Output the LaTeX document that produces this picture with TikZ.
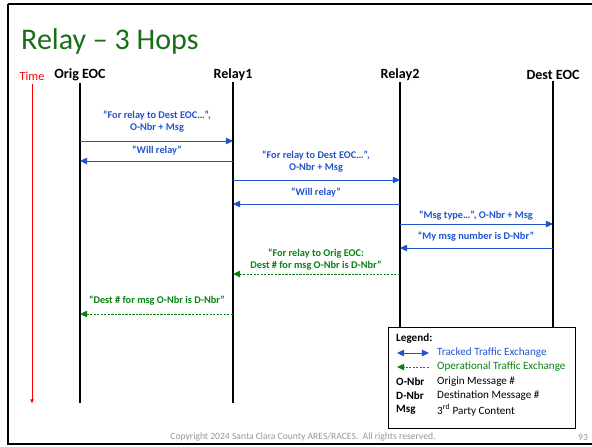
\documentclass[tikz,border=0pt]{standalone}
\usepackage{fontspec}
\setmainfont{Carlito}
\usepackage{tikz}
\usetikzlibrary{arrows.meta,positioning}
\definecolor{msgblue}{RGB}{32,84,204}
\definecolor{opgreen}{RGB}{10,130,20}
\definecolor{titlegreen}{RGB}{24,110,24}
\definecolor{copygray}{RGB}{150,150,150}
\tikzstyle{tracked}     = [msgblue, line width=0.8pt, -{Triangle[length=6pt,width=5.5pt]}]
\tikzstyle{operational} = [opgreen, line width=0.8pt, dash pattern=on 2pt off 1pt, -{Triangle[length=6pt,width=5.5pt]}]

\begin{document}
\begin{tikzpicture}[x=0.03cm,y=-0.03cm,
			header/.style={font=\bfseries\fontsize{12}{14}\selectfont, inner sep=1pt},
			lifeline/.style={line width=2.4pt},
			msg/.style={font=\bfseries\fontsize{8.8}{10.3}\selectfont, text=msgblue, align=center, inner sep=1pt},
			opmsg/.style={msg, text=opgreen},
			legtext/.style={font=\fontsize{9.5}{11}\selectfont, anchor=west, inner sep=0pt},
			legkey/.style={legtext, font=\bfseries\fontsize{9.5}{11}\selectfont},
		]
		\clip (0,0) rectangle (592,446);
		% slide frame
		\draw[line width=2.2pt] (8,4) -- (8,444) -- (610,444) (8,4) -- (610,4);
		\node[text=titlegreen, font=\fontsize{25.6}{30}\selectfont, anchor=west, inner sep=0pt] (title) at (21,42) {Relay – 3 Hops};

		% time axis
		\node[text=red, font=\fontsize{10.5}{12}\selectfont, inner sep=1pt] (time) at (32,76) {Time};
		\coordinate (timeend) at (32,403);
		\draw[red, line width=0.5pt, -{Triangle[length=3pt,width=3pt]}] (32,84) -- (timeend);

		% parties
		\node[header] (orig)   at (80,75)  {Orig EOC};
		\node[header] (relay1) at (233,75) {Relay1};
		\node[header] (relay2) at (400,75) {Relay2};
		\node[header] (dest)   at (553,75) {Dest EOC};

		% legend
		\node[draw, line width=1.2pt, fill=white, minimum width=5.61cm, minimum height=3.03cm, anchor=north west] (legend) at (388,327) {};

		\coordinate (origend) at (80,403);
		\coordinate (relay1end) at (233,403);
		\draw[lifeline] (orig.south) -- (origend);
		\draw[lifeline] (relay1.south) -- (relay1end);
		\draw[lifeline] (relay2.south) -- (relay2 |- legend.north);
		\draw[lifeline] (dest.south) -- (dest |- legend.north);

		% messages
		\node[msg] (l1) at (157,122) {“For relay to Dest EOC…”,\\O-Nbr + Msg};
		\coordinate (m1) at (0,141);
		\draw[tracked] (orig |- m1) -- (relay1 |- m1);

		\node[msg] (l2) at (157,151) {“Will relay”};
		\coordinate (m2) at (0,161);
		\draw[tracked] (relay1 |- m2) -- (orig |- m2);

		\node[msg] (l3) at (316,162) {“For relay to Dest EOC…”,\\O-Nbr + Msg};
		\coordinate (m3) at (0,180);
		\draw[tracked] (relay1 |- m3) -- (relay2 |- m3);

		\node[msg] (l4) at (316,193) {“Will relay”};
		\coordinate (m4) at (0,204);
		\draw[tracked] (relay2 |- m4) -- (relay1 |- m4);

		\node[msg] (l5) at (476,216) {“Msg type…”, O-Nbr + Msg};
		\coordinate (m5) at (0,224);
		\draw[tracked] (relay2 |- m5) -- (dest |- m5);

		\node[msg] (l6) at (476,237) {“My msg number is D-Nbr”};
		\coordinate (m6) at (0,248);
		\draw[tracked] (dest |- m6) -- (relay2 |- m6);

		\node[opmsg] (l7) at (316,260) {“For relay to Orig EOC:\\Dest \# for msg O-Nbr is D-Nbr”};
		\coordinate (m7) at (0,274);
		\draw[operational] (relay2 |- m7) -- (relay1 |- m7);

		\node[opmsg] (l8) at (157,301) {“Dest \# for msg O-Nbr is D-Nbr”};
		\coordinate (m8) at (0,314);
		\draw[operational] (relay1 |- m8) -- (orig |- m8);

		% legend contents
		\node[legkey] (leghead) at (396,339) {Legend:};
		\coordinate (ka) at (397,353);
		\coordinate (kb) at (429,353);
		\draw[tracked, {Triangle[length=6pt,width=5.5pt]}-{Triangle[length=6pt,width=5.5pt]}] (ka) -- (kb);
		\node[legtext, text=msgblue] (tracked) at (437,353) {Tracked Traffic Exchange};
		\coordinate (kc) at (429,367);
		\coordinate (kd) at (397,367);
		\draw[operational] (kc) -- (kd);
		\node[legtext, text=opgreen] (operational) at (437,367) {Operational Traffic Exchange};
		\node[legkey] (onbr) at (396,382) {O-Nbr};
		\node[legtext] (onbrtext) at (437,382) {Origin Message \#};
		\node[legkey] (dnbr) at (396,396) {D-Nbr};
		\node[legtext] (dnbrtext) at (437,396) {Destination Message \#};
		\node[legkey] (msgkey) at (396,410) {Msg};
		\node[legtext] (msgtext) at (437,410) {3\textsuperscript{rd} Party Content};

		% footer
		\node[text=copygray, font=\fontsize{8.2}{10}\selectfont, inner sep=0pt] (copy) at (303,437) {Copyright 2024 Santa Clara County ARES/RACES.~ All rights reserved.};
		\node[text=copygray, font=\fontsize{8.2}{10}\selectfont, inner sep=0pt] (page) at (583,437) {93};
	\end{tikzpicture}
\end{document}
